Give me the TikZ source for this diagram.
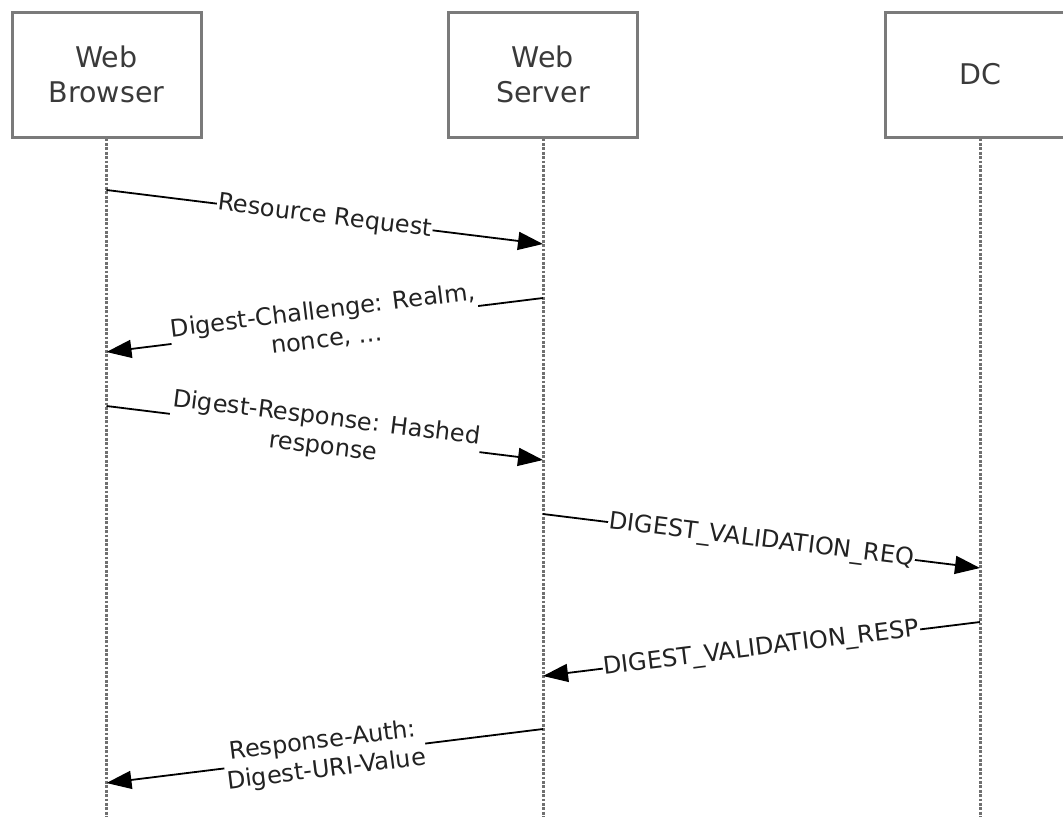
\documentclass[tikz,border=0pt]{standalone}
\usepackage{fontspec}
\setmainfont{DejaVu Sans}
\usetikzlibrary{arrows.meta}
\definecolor{boxline}{HTML}{7A7A7A}
\definecolor{lifegray}{HTML}{707070}
\definecolor{boxtext}{HTML}{3A3A3A}
\definecolor{msgtext}{HTML}{222222}
\tikzset{
  actor/.style={draw=boxline, line width=3pt, fill=white, minimum width=189pt, minimum height=125pt,
    align=center, text=boxtext, font=\fontsize{28.5}{35}\selectfont, inner sep=0pt},
  lifeline/.style={draw=lifegray, line width=3pt, dash pattern=on 2.8pt off 1.6pt},
  msg/.style={draw=black, line width=1.8pt, -{Triangle[length=25pt,width=18pt]}},
  msglabel/.style={midway, sloped, fill=white, inner xsep=1pt, inner ysep=0pt, align=center,
    text=msgtext, font=\fontsize{24}{29}\selectfont}
}
\begin{document}
\begin{tikzpicture}[x=1pt,y=-1pt]
\useasboundingbox (0,0) rectangle (1063,817);
\clip (0,0) rectangle (1063,817);
% actors
\node[actor] (wb) at (106.5,74.5) {Web\\Browser};
\node[actor] (ws) at (543,74.5) {Web\\Server};
\node[actor] (dc) at (980,74.5) {DC};
% lifeline ends
\coordinate (wbend) at (106.5,817);
\coordinate (wsend) at (543,817);
\coordinate (dcend) at (980,817);
\draw[lifeline] (wb.south) -- (wbend);
\draw[lifeline] (ws.south) -- (wsend);
\draw[lifeline] (dc.south) -- (dcend);
% message end points
\coordinate (m1a) at (106.5,190); \coordinate (m1b) at (543,244);
\coordinate (m2a) at (543,298);   \coordinate (m2b) at (106.5,352);
\coordinate (m3a) at (106.5,406); \coordinate (m3b) at (543,460);
\coordinate (m4a) at (543,514);   \coordinate (m4b) at (980,568);
\coordinate (m5a) at (980,622);   \coordinate (m5b) at (543,676);
\coordinate (m6a) at (543,729);   \coordinate (m6b) at (106.5,783);
% messages
\draw[msg] (m1a) -- node[msglabel] (l1) {Resource Request} (m1b);
\draw[msg] (m2a) -- node[msglabel] (l2) {Digest-Challenge: Realm,\\nonce, ...} (m2b);
\draw[msg] (m3a) -- node[msglabel] (l3) {Digest-Response: Hashed\\response} (m3b);
\draw[msg] (m4a) -- node[msglabel] (l4) {DIGEST\_VALIDATION\_REQ} (m4b);
\draw[msg] (m5a) -- node[msglabel] (l5) {DIGEST\_VALIDATION\_RESP} (m5b);
\draw[msg] (m6a) -- node[msglabel] (l6) {Response-Auth:\\Digest-URI-Value} (m6b);
\end{tikzpicture}
\end{document}
